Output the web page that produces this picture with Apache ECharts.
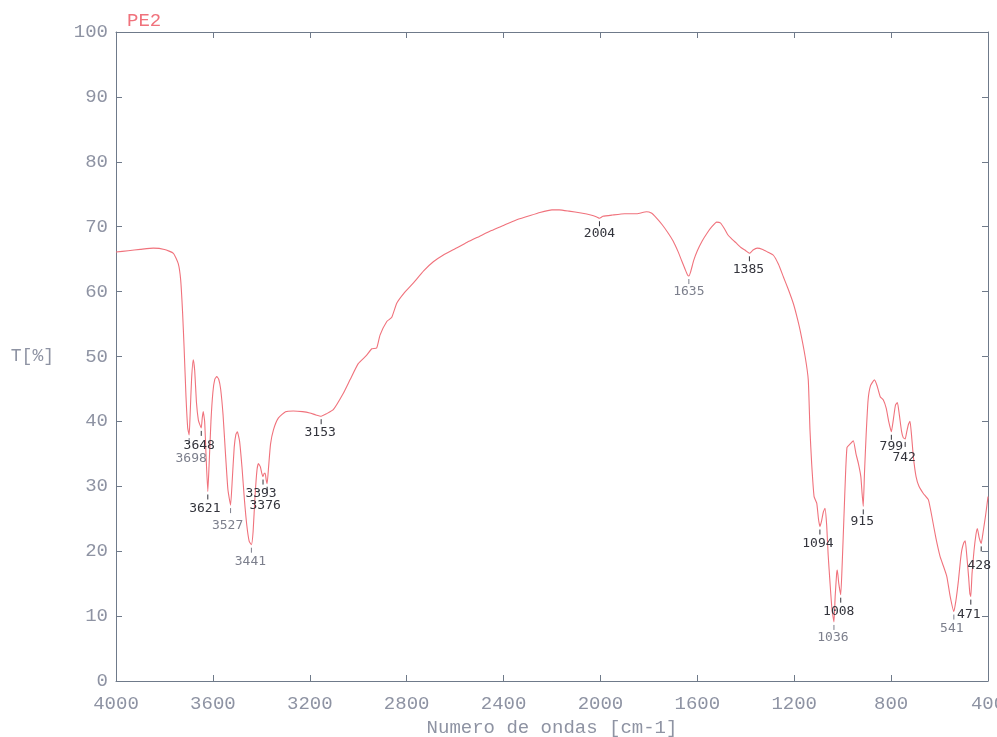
<!DOCTYPE html>
<html>
<head>
<meta charset="utf-8">
<title>PE2 FTIR</title>
<script src="https://cdn.jsdelivr.net/npm/echarts@6/dist/echarts.min.js"></script>
<style>
  html, body { margin: 0; padding: 0; background: #ffffff; overflow: hidden; }
  #chart { width: 997px; height: 737px; }
</style>
</head>
<body>
<div id="chart"></div>
<script>
// Sample name
const sampleName = 'PE2';

// Spectrum: wavenumber (cm-1) and transmittance (%)
const spectrumWavenumber = [
  4000, 3950, 3900, 3846, 3800, 3763, 3743, 3733, 3725, 3719, 3711, 3704, 3698,
  3694, 3688, 3681, 3675, 3668, 3660, 3654, 3648, 3644, 3640, 3634, 3628, 3621,
  3616, 3608, 3600, 3592, 3584, 3576, 3568, 3558, 3548, 3538, 3527, 3520, 3512,
  3505, 3499, 3490, 3480, 3470, 3460, 3450, 3441, 3434, 3426, 3418, 3412, 3404,
  3398, 3393, 3388, 3384, 3380, 3376, 3370, 3362, 3350, 3330, 3300, 3268, 3230,
  3200, 3175, 3153, 3130, 3103, 3062, 3034, 3000, 2965, 2944, 2924, 2910, 2882,
  2862, 2841, 2810, 2773, 2730, 2690, 2650, 2600, 2550, 2500, 2450, 2400, 2350,
  2300, 2250, 2200, 2170, 2130, 2080, 2040, 2015, 2004, 1990, 1950, 1900, 1850,
  1810, 1790, 1770, 1745, 1720, 1700, 1680, 1665, 1650, 1641, 1635, 1628, 1615,
  1600, 1580, 1560, 1540, 1520, 1505, 1490, 1475, 1460, 1440, 1420, 1400, 1385,
  1370, 1353, 1330, 1310, 1286, 1265, 1245, 1225, 1204, 1190, 1176, 1155, 1142,
  1135, 1128, 1118, 1107, 1100, 1094, 1088, 1080, 1073, 1066, 1060, 1052, 1044,
  1036, 1031, 1025, 1022, 1016, 1008, 1002, 995, 988, 982, 970, 956, 945, 935,
  925, 920, 915, 910, 903, 895, 885, 869, 858, 845, 832, 820, 810, 799, 790, 782,
  774, 766, 757, 750, 742, 735, 728, 722, 716, 708, 697, 685, 667, 646, 630, 615,
  598, 585, 570, 556, 541, 532, 522, 514, 508, 500, 494, 488, 480, 475, 471, 466,
  458, 450, 444, 436, 428, 420, 410, 400
];
const spectrumTransmittance = [
  66.1, 66.3, 66.5, 66.7, 66.5, 65.9, 64.3, 61.8, 56.7, 51.5, 43.8, 39.0, 37.9,
  41.0, 46.5, 49.5, 47.8, 43.0, 40.2, 39.5, 39.0, 40.5, 41.5, 40.0, 34.5, 29.2,
  33.0, 40.0, 44.5, 46.5, 46.9, 46.5, 45.0, 41.0, 35.0, 29.5, 27.1, 31.0, 36.0,
  38.0, 38.4, 37.0, 33.0, 28.0, 24.0, 21.5, 21.0, 23.0, 28.5, 32.5, 33.5, 33.0,
  32.0, 31.5, 32.0, 32.0, 31.0, 30.4, 33.0, 36.5, 38.7, 40.5, 41.5, 41.6, 41.5,
  41.3, 41.0, 40.8, 41.2, 41.8, 44.3, 46.4, 48.9, 50.2, 51.2, 51.3, 53.3, 55.4,
  56.0, 58.2, 59.8, 61.3, 63.2, 64.6, 65.6, 66.6, 67.6, 68.5, 69.4, 70.2, 71.0,
  71.6, 72.2, 72.6, 72.6, 72.4, 72.1, 71.8, 71.5, 71.3, 71.6, 71.8, 72.0, 72.0,
  72.3, 72.1, 71.4, 70.3, 69.0, 67.8, 66.2, 64.8, 63.4, 62.6, 62.4, 63.0, 64.8,
  66.3, 67.8, 69.0, 70.0, 70.7, 70.6, 69.8, 68.8, 68.2, 67.5, 66.8, 66.3, 65.9,
  66.4, 66.7, 66.5, 66.1, 65.6, 64.2, 62.3, 60.4, 58.2, 56.3, 54.1, 50.0, 46.4,
  38.7, 33.5, 28.4, 27.4, 25.0, 23.8, 24.5, 26.0, 26.6, 24.0, 19.5, 15.0, 11.0,
  9.1, 13.0, 16.5, 17.1, 15.0, 13.3, 18.0, 25.0, 32.0, 36.0, 36.5, 37.0, 35.0,
  33.5, 31.5, 29.0, 26.9, 32.0, 38.0, 43.3, 45.5, 46.4, 45.5, 43.8, 43.3, 42.0,
  40.0, 38.4, 40.5, 42.5, 42.9, 41.0, 38.5, 37.5, 37.3, 38.5, 39.6, 40.0, 38.0,
  34.5, 31.5, 30.0, 28.9, 27.9, 25.0, 22.0, 19.2, 17.8, 16.1, 13.0, 10.7, 12.5,
  15.5, 18.5, 20.2, 21.3, 21.6, 19.5, 16.0, 13.5, 13.0, 16.5, 20.0, 22.5, 23.5,
  22.0, 21.2, 23.0, 25.5, 28.4
];

// Labelled band minima
const peakWavenumber = [3698, 3648, 3621, 3527, 3441, 3393, 3376, 3153, 2004, 1635,
  1385, 1094, 1036, 1008, 915, 799, 742, 541, 471, 428];
const peakTransmittance = [37.9, 39.0, 29.2, 27.1, 21.0, 31.5, 30.4, 40.8, 71.3, 62.4,
  65.9, 23.8, 9.1, 13.3, 26.9, 38.4, 37.3, 10.7, 13.0, 21.2];

// Axis texts
const xAxisTitle = 'Numero de ondas [cm-1]';
const yAxisTitle = 'T[%]';

// Placement of each band label relative to its minimum (px), and its tint
const peakLabelLayout = {
  3698: { dx: 2, dy: 24, light: true },
  3648: { dx: -2, dy: 18 },
  3621: { dx: -3, dy: 17 },
  3527: { dx: -3, dy: 21, light: true },
  3441: { dx: -1, dy: 17, light: true },
  3393: { dx: -2, dy: 17 },
  3376: { dx: -2, dy: 22 },
  3153: { dx: -1, dy: 16 },
  2004: { dx: 0, dy: 15 },
  1635: { dx: 0, dy: 16, light: true },
  1385: { dx: -1, dy: 16 },
  1094: { dx: -2, dy: 17 },
  1036: { dx: -1, dy: 16, light: true },
  1008: { dx: -2, dy: 17 },
  915: { dx: -1, dy: 15 },
  799: { dx: 0, dy: 15 },
  742: { dx: -1, dy: 19 },
  541: { dx: -2, dy: 17, light: true },
  471: { dx: -2, dy: 18 },
  428: { dx: -2, dy: 22 }
};

const axisColor = '#6f7a8a';
const tickLabelColor = '#8e93a3';
const curveColor = '#f0727c';
const monoFont = '"Liberation Mono", "DejaVu Sans Mono", monospace';

const spectrumData = spectrumWavenumber.map((w, i) => [w, spectrumTransmittance[i]]);
const peakData = peakWavenumber.map((w, i) => [w, peakTransmittance[i], i]);

const chart = echarts.init(document.getElementById('chart'), null, { renderer: 'canvas' });

const plainNumber = function (v) { return String(v); };

const baseX = {
  type: 'value', min: 400, max: 4000, interval: 400, inverse: true,
  axisLine: { show: true, onZero: false, lineStyle: { color: axisColor, width: 1 } },
  axisTick: { show: true, inside: true, length: 6, lineStyle: { color: axisColor } },
  splitLine: { show: false }
};
const baseY = {
  type: 'value', min: 0, max: 100, interval: 10,
  axisLine: { show: true, onZero: false, lineStyle: { color: axisColor, width: 1 } },
  axisTick: { show: true, inside: true, length: 6, lineStyle: { color: axisColor } },
  splitLine: { show: false }
};

chart.setOption({
  animation: false,
  backgroundColor: '#ffffff',
  title: {
    text: sampleName, left: 122, top: 6,
    textStyle: { color: curveColor, fontSize: 19, fontWeight: 'normal', fontFamily: monoFont }
  },
  grid: { left: 116, right: 9, top: 32, bottom: 56, containLabel: false, outerBoundsMode: 'none' },
  xAxis: [
    Object.assign({}, baseX, {
      position: 'bottom',
      axisLabel: { color: tickLabelColor, fontSize: 19, fontFamily: monoFont, margin: 13, formatter: plainNumber },
      name: xAxisTitle, nameLocation: 'middle', nameGap: 37,
      nameTextStyle: { color: tickLabelColor, fontSize: 19, fontFamily: monoFont }
    }),
    Object.assign({}, baseX, { position: 'top', axisLabel: { show: false } })
  ],
  yAxis: [
    Object.assign({}, baseY, {
      position: 'left',
      axisLabel: { color: tickLabelColor, fontSize: 19, fontFamily: monoFont, margin: 8, formatter: plainNumber },
      name: yAxisTitle, nameLocation: 'middle', nameRotate: 0, nameGap: 62,
      nameTextStyle: { color: tickLabelColor, fontSize: 18, fontFamily: monoFont, align: 'right' }
    }),
    Object.assign({}, baseY, { position: 'right', axisLabel: { show: false } })
  ],
  series: [
    {
      name: sampleName,
      type: 'line',
      xAxisIndex: 0, yAxisIndex: 0,
      data: spectrumData,
      showSymbol: false,
      smooth: 0.15,
      lineStyle: { color: curveColor, width: 1.1 },
      z: 2
    },
    {
      name: 'bands',
      type: 'custom',
      xAxisIndex: 0, yAxisIndex: 0,
      data: peakData,
      clip: false,
      z: 3,
      renderItem: function (params, api) {
        const w = api.value(0);
        const p = api.coord([w, api.value(1)]);
        const lay = peakLabelLayout[w] || { dx: 0, dy: 16 };
        const color = lay.light ? '#7c7f8c' : '#33343c';
        return {
          type: 'group',
          children: [
            {
              type: 'line',
              shape: { x1: p[0], y1: p[1] + 3, x2: p[0], y2: p[1] + 8 },
              style: { stroke: color, lineWidth: 1 }
            },
            {
              type: 'text',
              x: p[0] + lay.dx,
              y: p[1] + lay.dy,
              style: {
                text: String(w),
                fill: color,
                font: '13px "DejaVu Sans Mono", monospace',
                align: 'center',
                verticalAlign: 'middle'
              }
            }
          ]
        };
      }
    }
  ]
});
</script>
</body>
</html>
